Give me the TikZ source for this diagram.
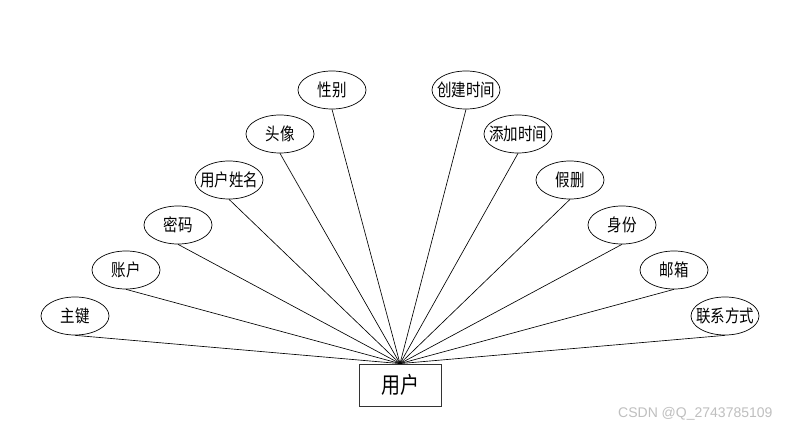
\documentclass[tikz,border=0pt]{standalone}
\usepackage{fontspec}
\usepackage{graphicx}
\setmainfont{Noto Sans CJK SC}
\newfontfamily\wmfont{Liberation Sans}
\usetikzlibrary{shapes.geometric}
\newcommand{\tall}[1]{\makebox[0pt]{\scalebox{1}[1.2]{#1}}}
\begin{document}
\begin{tikzpicture}[x=1pt,y=-1pt,
  attr/.style={ellipse,draw=black,line width=0.7pt,minimum width=68pt,minimum height=38pt,inner sep=0pt,font=\fontsize{14.5}{16}\selectfont},
  ent/.style={rectangle,draw=black!80,line width=0.8pt,minimum width=82pt,minimum height=42pt,inner sep=0pt,font=\fontsize{19}{21}\selectfont},
  link/.style={draw=black,line width=0.65pt}]
\useasboundingbox[fill=white] (0,0) rectangle (800,430);
\node[ent] (u) at (400,385) {\tall{用户}};
\node[attr] (a1) at (75,316) {\tall{主键}};
\node[attr] (a2) at (126,270) {\tall{账户}};
\node[attr] (a3) at (178,225) {\tall{密码}};
\node[attr] (a4) at (229,180) {\tall{用户姓名}};
\node[attr] (a5) at (280,134) {\tall{头像}};
\node[attr] (a6) at (332,90) {\tall{性别}};
\node[attr] (b1) at (466,90) {\tall{创建时间}};
\node[attr] (b2) at (518,134) {\tall{添加时间}};
\node[attr] (b3) at (570,180) {\tall{假删}};
\node[attr] (b4) at (622,225) {\tall{身份}};
\node[attr] (b5) at (674,270) {\tall{邮箱}};
\node[attr] (b6) at (725,316) {\tall{联系方式}};
\foreach \n in {a1,a2,a3,a4,a5,a6,b1,b2,b3,b4,b5,b6}
  \draw[link] (\n.south) -- (u.north);
\node[text=black!25,font=\wmfont\fontsize{14}{16}\selectfont,anchor=west,inner sep=0pt] (wm) at (618,414) {CSDN @Q\_2743785109};
\end{tikzpicture}
\end{document}
